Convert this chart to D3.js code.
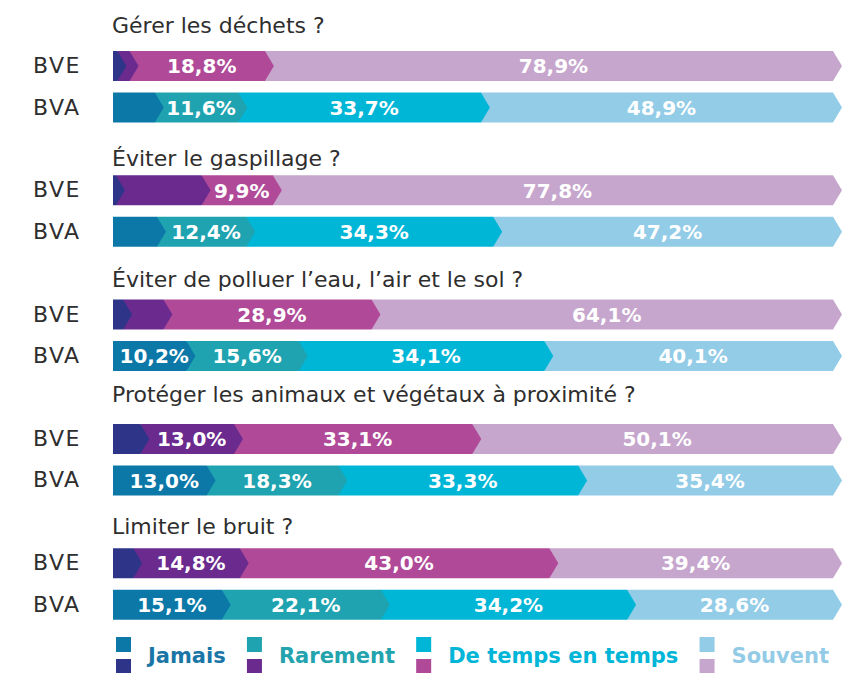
<!DOCTYPE html>
<html lang="fr">
<head>
<meta charset="utf-8">
<script src="https://cdn.jsdelivr.net/npm/d3@7"></script>
<style>
  html, body { margin: 0; padding: 0; background: #ffffff; }
  svg { display: block; }
</style>
</head>
<body>
<svg id="chart" width="843" height="673"></svg>
<script>
// Questions, one block of two bars each
const questions = [
  "Gérer les déchets ?",
  "Éviter le gaspillage ?",
  "Éviter de polluer l’eau, l’air et le sol ?",
  "Protéger les animaux et végétaux à proximité ?",
  "Limiter le bruit ?"
];
const groups = ["BVE", "BVA"];
const levels = ["Jamais", "Rarement", "De temps en temps", "Souvent"];

// Shares (%) per question, in the order of `levels`
const bveValues = [
  [0.6, 1.7, 18.8, 78.9],
  [0.4, 11.9, 9.9, 77.8],
  [1.4, 5.6, 28.9, 64.1],
  [3.8, 13.0, 33.1, 50.1],
  [2.8, 14.8, 43.0, 39.4]
];
const bvaValues = [
  [5.8, 11.6, 33.7, 48.9],
  [6.1, 12.4, 34.3, 47.2],
  [10.2, 15.6, 34.1, 40.1],
  [13.0, 18.3, 33.3, 35.4],
  [15.1, 22.1, 34.2, 28.6]
];
// Which segments carry a printed value (1) or not (0)
const bveShown = [[0,0,1,1],[0,0,1,1],[0,0,1,1],[0,1,1,1],[0,1,1,1]];
const bvaShown = [[0,1,1,1],[0,1,1,1],[1,1,1,1],[1,1,1,1],[1,1,1,1]];

// Layout: space between each title's baseline and its first bar
const titleGap = [18, 9, 13, 22, 14];

const palette = {
  BVE: ["#2e3589", "#6a2a8e", "#b04a98", "#c6a6cd"],
  BVA: ["#0b78a8", "#1fa3b0", "#00b6d7", "#93cce7"]
};
const legendText = ["#1a76a6", "#22a3ae", "#00b5d7", "#93cbe6"];

const fr = d3.formatLocale({decimal: ",", thousands: "\u202f", grouping: [3], currency: ["", " €"]});
const fmt = v => fr.format(".1f")(v) + "%";

const svg = d3.select("#chart");
const tip = 9;           // depth of the chevron point
const font = "'DejaVu Sans', sans-serif";

const x = d3.scaleLinear().domain([0, 100]).range([113, 833]);
const yQ = d3.scaleBand().domain(questions).range([51, 51 + 124.3 * questions.length]);
const yG = d3.scaleBand().domain(groups).range([0, 71.5]).paddingInner(11.5 / 41.5);
const barH = yG.bandwidth();

function chevron(x0, x1, y0, h) {
  const p = d3.path();
  p.moveTo(x0, y0);
  p.lineTo(x1, y0);
  p.lineTo(x1 + tip, y0 + h / 2);
  p.lineTo(x1, y0 + h);
  p.lineTo(x0, y0 + h);
  p.closePath();
  return p.toString();
}

const rows = [];
questions.forEach((q, qi) => {
  groups.forEach(g => {
    const vals = g === "BVE" ? bveValues[qi] : bvaValues[qi];
    const shown = g === "BVE" ? bveShown[qi] : bvaShown[qi];
    const ends = d3.cumsum(vals);
    const segs = vals.map((v, i) => ({
      level: levels[i], i, value: v, shown: shown[i],
      start: i === 0 ? 0 : ends[i - 1], end: ends[i]
    }));
    rows.push({q, g, y: yQ(q) + yG(g), segs});
  });
});

// Question titles
svg.append("g").selectAll("text").data(questions).join("text")
  .attr("x", 112)
  .attr("y", (d, i) => yQ(d) - titleGap[i])
  .attr("font-family", font)
  .attr("font-size", 22)
  .attr("fill", "#2e2e2e")
  .text(d => d);

const row = svg.append("g").selectAll("g.row").data(rows).join("g")
  .attr("class", "row")
  .attr("transform", d => `translate(0,${d.y})`);

// Row labels
row.append("text")
  .attr("x", 33)
  .attr("y", barH / 2 + 7)
  .attr("font-family", font)
  .attr("font-size", 22)
  .attr("letter-spacing", 1.5)
  .attr("fill", "#2e2e2e")
  .text(d => d.g);

// Segments: drawn right to left so each point sits over the next segment
row.selectAll("path.seg").data(d => d.segs.slice().reverse().map(s => ({...s, g: d.g})))
  .join("path")
  .attr("class", "seg")
  .attr("d", s => chevron(x(s.start), x(s.end), 0, barH))
  .attr("fill", s => palette[s.g][s.i]);

// Values inside segments
row.selectAll("text.val").data(d => d.segs.filter(s => s.shown))
  .join("text")
  .attr("class", "val")
  .attr("x", s => (x(s.start) + x(s.end)) / 2 + tip / 2)
  .attr("y", barH / 2 + 7.3)
  .attr("text-anchor", "middle")
  .attr("font-family", font)
  .attr("font-weight", "bold")
  .attr("font-size", 20)
  .attr("fill", "#ffffff")
  .text(s => fmt(s.value));

// Legend: two swatches (BVA over BVE) and the level name
const legend = svg.append("g");
const items = legend.selectAll("g").data(levels).join("g");
items.append("rect").attr("x", 0).attr("y", 637).attr("width", 15).attr("height", 15)
  .attr("fill", (d, i) => palette.BVA[i]);
items.append("rect").attr("x", 0).attr("y", 659).attr("width", 15).attr("height", 15)
  .attr("fill", (d, i) => palette.BVE[i]);
const labels = items.append("text")
  .attr("x", 32)
  .attr("y", 663)
  .attr("font-family", font)
  .attr("font-weight", "bold")
  .attr("font-size", 21)
  .attr("fill", (d, i) => legendText[i])
  .text(d => d);

// Spread the legend items between the left edge and the right end of the bars
const widths = labels.nodes().map(n => n.getComputedTextLength());
const left = 116, right = 829;
const total = d3.sum(widths) + 32 * levels.length;
const gap = (right - left - total) / (levels.length - 1);
let cx = left;
items.attr("transform", (d, i) => {
  const t = `translate(${cx},0)`;
  cx += 32 + widths[i] + gap;
  return t;
});
</script>
</body>
</html>
